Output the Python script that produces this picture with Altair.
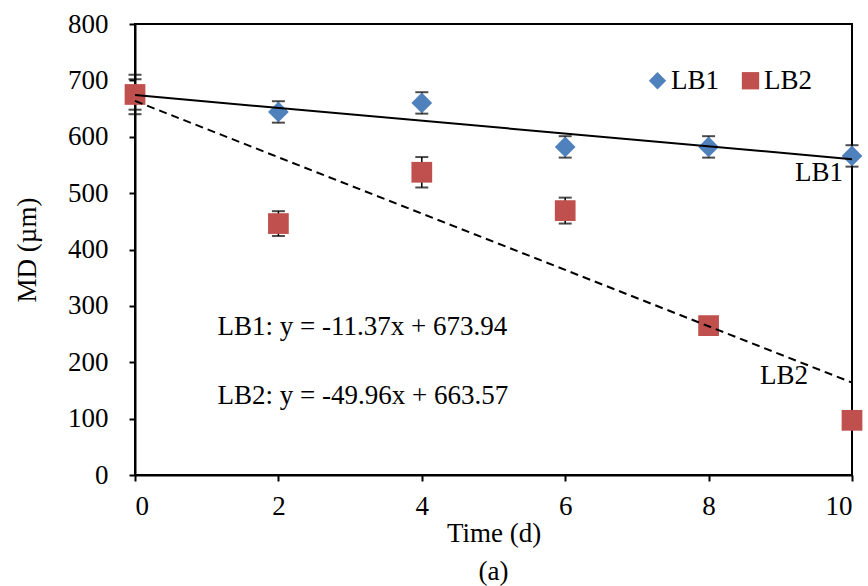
import altair as alt
import pandas as pd

# Measured mean diameter (µm) over storage time (d)
days = [0, 2, 4, 6, 8, 10]
lb1_md = [675, 644, 660, 582, 582, 566]
lb1_err = [35, 19, 19, 19, 19, 19]
lb2_md = [675, 446, 537, 469, 265, 97]
lb2_err = [27, 22, 27, 23, 10, 8]

series = ["LB1", "LB2"]
colors = ["#4F81BD", "#C0504D"]
shapes = ["diamond", "square"]

# Linear fits stated on the chart
fit_slope = [-11.37, -49.96]
fit_intercept = [673.94, 663.57]
fit_range = [0, 10]

# Equation text anchors (data units)
eq_x = [1.15, 1.15]
eq_y = [262, 140]

FONT = "Liberation Serif"
FS = 27

rows = []
for d, m, e in zip(days, lb1_md, lb1_err):
    rows.append({"day": d, "md": m, "lo": m - e, "hi": m + e, "series": "LB1"})
for d, m, e in zip(days, lb2_md, lb2_err):
    rows.append({"day": d, "md": m, "lo": m - e, "hi": m + e, "series": "LB2"})
pts = pd.DataFrame(rows)

fit_rows = []
for s, a, b in zip(series, fit_slope, fit_intercept):
    for x in fit_range:
        fit_rows.append({"day": x, "md": a * x + b, "series": s})
fits = pd.DataFrame(fit_rows)

eq_df = pd.DataFrame({
    "day": eq_x,
    "md": eq_y,
    "label": [f"{s}: y = {a:.2f}x + {b:.2f}" for s, a, b in zip(series, fit_slope, fit_intercept)],
})

xs = alt.Scale(domain=[0, 10], nice=False)
ys = alt.Scale(domain=[0, 800], nice=False)

x_enc = alt.X("day:Q", scale=xs, axis=alt.Axis(
    title="Time (d)", values=days, format="d", labelPadding=12, titlePadding=1))
y_enc = alt.Y("md:Q", scale=ys, axis=alt.Axis(
    title="MD (µm)", values=list(range(0, 801, 100)), labelPadding=21, titlePadding=26))

base = alt.Chart(pts)

stems = base.mark_rule(color="black", strokeWidth=1.5).encode(
    x=x_enc, y="lo:Q", y2="hi:Q")
cap_lo = base.mark_tick(color="black", orient="horizontal", size=13, thickness=2).encode(
    x="day:Q", y="lo:Q")
cap_hi = base.mark_tick(color="black", orient="horizontal", size=13, thickness=2).encode(
    x="day:Q", y="hi:Q")

markers = base.mark_point(filled=True, opacity=1, size=430).encode(
    x=x_enc,
    y=y_enc,
    color=alt.Color("series:N", scale=alt.Scale(domain=series, range=colors),
                    legend=alt.Legend(title=None, orient="none", direction="horizontal",
                                      legendX=509, legendY=43, symbolSize=300,
                                      labelFont=FONT, labelFontSize=FS, labelColor="black",
                                      labelOffset=0, columnPadding=17, symbolOpacity=1)),
    shape=alt.Shape("series:N", scale=alt.Scale(domain=series, range=shapes)),
)

fit_base = alt.Chart(fits)
fit1 = fit_base.transform_filter(alt.datum.series == "LB1").mark_line(
    color="black", strokeWidth=2).encode(x="day:Q", y="md:Q")
fit2 = fit_base.transform_filter(alt.datum.series == "LB2").mark_line(
    color="black", strokeWidth=2, strokeDash=[8, 5]).encode(x="day:Q", y="md:Q")

label1 = fit_base.transform_filter(
    (alt.datum.day == 10) & (alt.datum.series == "LB1")).mark_text(
    font=FONT, fontSize=FS, color="black", align="right", baseline="middle",
    dx=-9, dy=14).encode(x="day:Q", y="md:Q", text="series:N")
label2 = fit_base.transform_filter(
    (alt.datum.day == 10) & (alt.datum.series == "LB2")).mark_text(
    font=FONT, fontSize=FS, color="black", align="right", baseline="middle",
    dx=-44, dy=-7).encode(x="day:Q", y="md:Q", text="series:N")

eqs = alt.Chart(eq_df).mark_text(
    font=FONT, fontSize=FS, color="black", align="left", baseline="middle").encode(
    x="day:Q", y="md:Q", text="label:N")

chart = alt.layer(stems, cap_lo, cap_hi, markers, fit1, fit2, label1, label2, eqs).properties(
    width=717, height=451,
    padding={"left": 135, "top": 24, "right": 16, "bottom": 111},
    autosize=alt.AutoSizeParams(type="none"),
    background="white",
    title=alt.TitleParams("(a)", orient="bottom", font=FONT, fontSize=FS,
                          fontWeight="normal", color="black", offset=13),
).configure_view(stroke="black", strokeWidth=2).configure_axis(
    labelFont=FONT, titleFont=FONT, labelFontSize=FS, titleFontSize=FS,
    labelColor="black", titleColor="black", titleFontWeight="normal",
    domainColor="black", domainWidth=2, tickColor="black", tickWidth=2, tickSize=6,
    grid=False,
)

chart.save("out.html", embed_options={"renderer": "svg", "actions": False})
